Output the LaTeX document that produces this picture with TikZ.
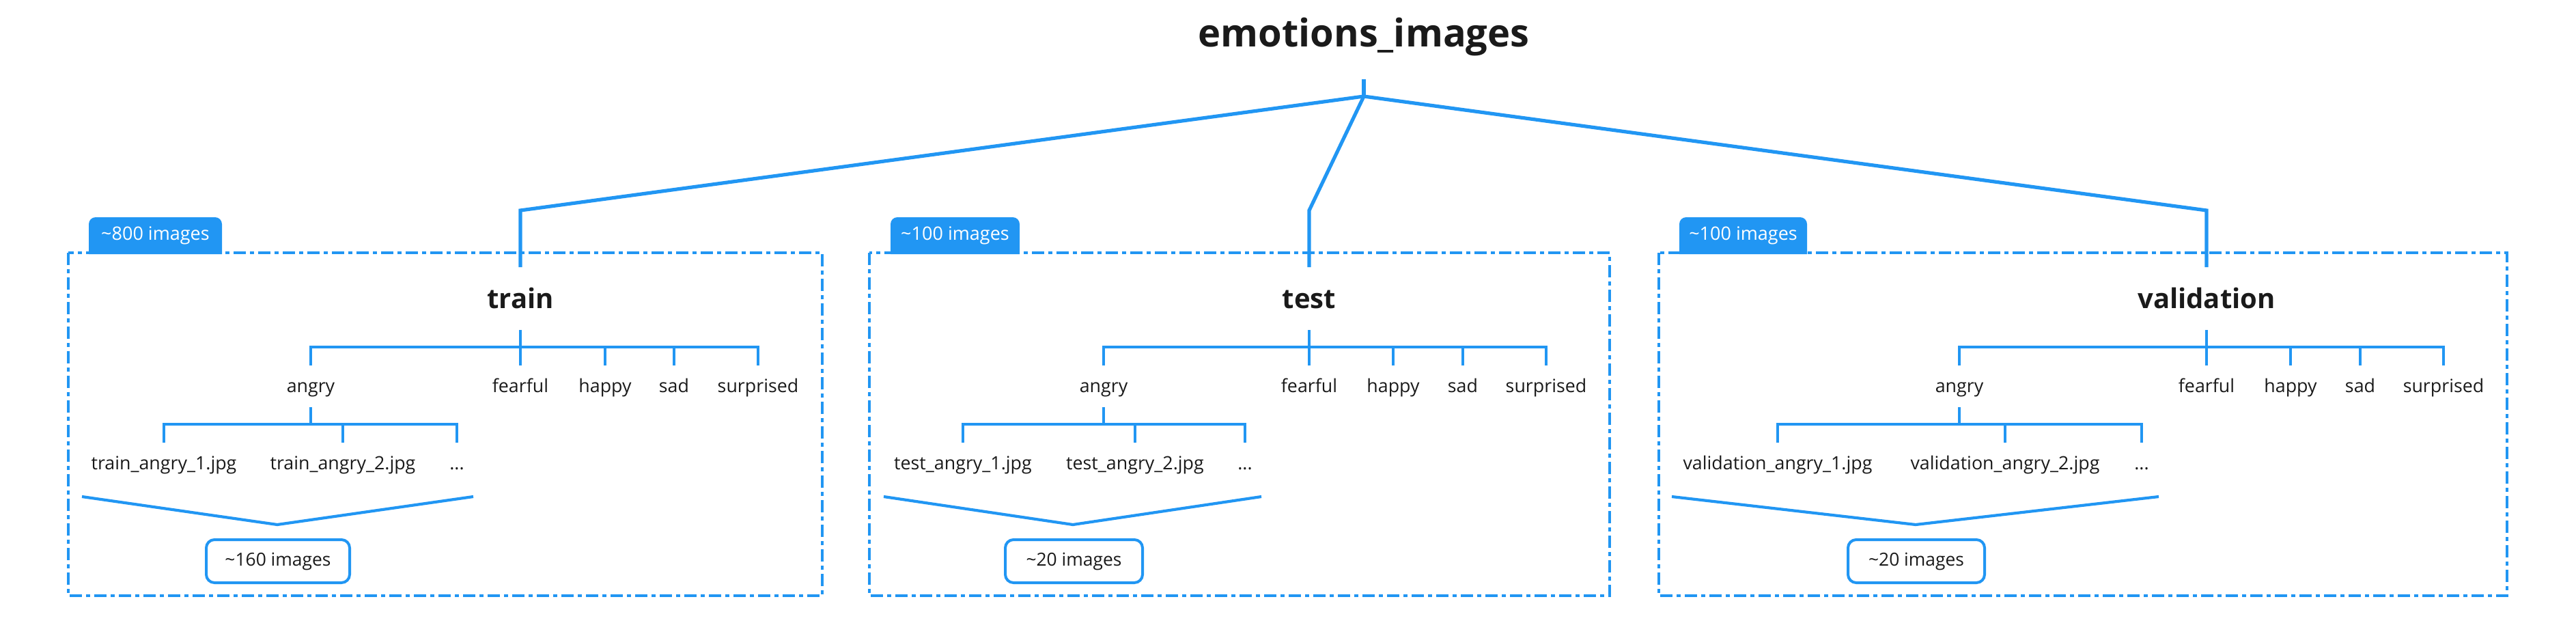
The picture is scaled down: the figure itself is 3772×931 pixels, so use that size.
\documentclass[tikz,border=0pt]{standalone}
\usepackage{fontspec}
\setmainfont{Open Sans}
\usetikzlibrary{calc}
\definecolor{tblue}{HTML}{2196F3}
\definecolor{ink}{HTML}{1A1A1A}
\tikzset{
  conn/.style={draw=tblue, line width=1.3pt, line join=miter},
  branch/.style={draw=tblue, line width=1pt},
  stub/.style={draw=tblue, line width=0.85pt},
  vshape/.style={draw=tblue, line width=1.05pt, line join=miter},
  framebox/.style={draw=tblue, line width=1pt, dash pattern=on 4.5pt off 1.5pt on 1.5pt off 1.5pt},
  tabfill/.style={fill=tblue},
  rootlabel/.style={font=\fontsize{14}{16}\selectfont\bfseries, text=ink, anchor=base, inner sep=0pt},
  splitlabel/.style={font=\fontsize{10}{12}\selectfont\bfseries, text=ink, anchor=base, inner sep=0pt},
  leaf/.style={font=\fontsize{6.7}{7.5}\selectfont, text=ink, anchor=base, inner xsep=0pt, inner ysep=4.75pt, text height=4.75pt, text depth=1.5pt},
  tabtext/.style={text=white, font=\fontsize{6.75}{7.5}\selectfont, inner sep=0pt},
  countbox/.style={draw=tblue, line width=1pt, fill=white, rounded corners=3pt, text=ink, font=\fontsize{6.6}{7.5}\selectfont, inner sep=0pt, minimum height=15.75pt}
}
\begin{document}
\begin{tikzpicture}[x=0.25pt,y=-0.25pt]
\useasboundingbox (0,0) rectangle (3772,931);

% root
\node[rootlabel] (root) at (1997,68) {emotions\_images};
\coordinate (rtop) at (1997,116);
\coordinate (rj) at (1997,141);
\draw[conn] (rtop) -- (rj);

% frames and tabs
\draw[framebox] (100,370) rectangle (1204,872);
\draw[framebox] (1273,370) rectangle (2357,872);
\draw[framebox] (2429,370) rectangle (3671,872);

\fill[tabfill] (130,372) [rounded corners=2.5pt] -- (130,318) -- (325,318) [sharp corners] -- (325,372) -- cycle;
\node[tabtext] (tabA) at (227.5,345) {\textasciitilde800 images};
\fill[tabfill] (1304,372) [rounded corners=2.5pt] -- (1304,318) -- (1493,318) [sharp corners] -- (1493,372) -- cycle;
\node[tabtext] (tabB) at (1398.5,345) {\textasciitilde100 images};
\fill[tabfill] (2459,372) [rounded corners=2.5pt] -- (2459,318) -- (2646,318) [sharp corners] -- (2646,372) -- cycle;
\node[tabtext] (tabC) at (2552.5,345) {\textasciitilde100 images};

% second level
\node[splitlabel] (train) at (762,451) {train};
\node[splitlabel] (test) at (1917,451) {test};
\node[splitlabel] (valid) at (3231,451) {validation};

\coordinate (kA) at (762,308);
\coordinate (kB) at (1917,308);
\coordinate (kC) at (3231,308);
\draw[conn] (rj) -- (kA) -- ($(train.base)+(0,-60)$);
\draw[conn] (rj) -- (kB) -- ($(test.base)+(0,-60)$);
\draw[conn] (rj) -- (kC) -- ($(valid.base)+(0,-60)$);

% TRAIN
\coordinate (jA) at (762,508);
\draw[stub] ($(train.base)+(0,32)$) -- (jA);
\node[leaf] (angA) at (455,574) {angry};
\node[leaf] (feaA) at (762,574) {fearful};
\node[leaf] (hapA) at (886,574) {happy};
\node[leaf] (sadA) at (987,574) {sad};
\node[leaf] (surA) at (1110,574) {surprised};
\draw[branch] (angA.north) -- (angA.north |- jA) -- (surA.north |- jA) -- (surA.north);
\foreach \nm in {feaA,hapA,sadA} \draw[branch] (\nm.north) -- (\nm.north |- jA);
\coordinate (gA) at (455,621);
\draw[stub] ($(angA.base)+(0,22)$) -- (gA);
\node[leaf] (fA1) at (240,687) {train\_angry\_1.jpg};
\node[leaf] (fA2) at (502,687) {train\_angry\_2.jpg};
\node[leaf] (fA3) at (669,687) {...};
\draw[branch] (fA1.north) -- (fA1.north |- gA) -- (fA3.north |- gA) -- (fA3.north);
\draw[branch] (fA2.north) -- (fA2.north |- gA);
\coordinate (vA1) at (120,727);
\coordinate (vA2) at (406,768);
\coordinate (vA3) at (693,727);
\draw[vshape] (vA1) -- (vA2) -- (vA3);
\node[countbox, minimum width=52.5pt] (cA) at (407,821.5) {\textasciitilde160 images};

% TEST
\coordinate (jB) at (1917,508);
\draw[stub] ($(test.base)+(0,32)$) -- (jB);
\node[leaf] (angB) at (1616,574) {angry};
\node[leaf] (feaB) at (1917,574) {fearful};
\node[leaf] (hapB) at (2040,574) {happy};
\node[leaf] (sadB) at (2142,574) {sad};
\node[leaf] (surB) at (2264,574) {surprised};
\draw[branch] (angB.north) -- (angB.north |- jB) -- (surB.north |- jB) -- (surB.north);
\foreach \nm in {feaB,hapB,sadB} \draw[branch] (\nm.north) -- (\nm.north |- jB);
\coordinate (gB) at (1616,621);
\draw[stub] ($(angB.base)+(0,22)$) -- (gB);
\node[leaf] (fB1) at (1410,687) {test\_angry\_1.jpg};
\node[leaf] (fB2) at (1662,687) {test\_angry\_2.jpg};
\node[leaf] (fB3) at (1823,687) {...};
\draw[branch] (fB1.north) -- (fB1.north |- gB) -- (fB3.north |- gB) -- (fB3.north);
\draw[branch] (fB2.north) -- (fB2.north |- gB);
\coordinate (vB1) at (1294,727);
\coordinate (vB2) at (1571,768);
\coordinate (vB3) at (1847,727);
\draw[vshape] (vB1) -- (vB2) -- (vB3);
\node[countbox, minimum width=50.25pt] (cB) at (1572.5,821.5) {\textasciitilde20 images};

% VALIDATION
\coordinate (jC) at (3231,508);
\draw[stub] ($(valid.base)+(0,32)$) -- (jC);
\node[leaf] (angC) at (2869,574) {angry};
\node[leaf] (feaC) at (3231,574) {fearful};
\node[leaf] (hapC) at (3354,574) {happy};
\node[leaf] (sadC) at (3456,574) {sad};
\node[leaf] (surC) at (3578,574) {surprised};
\draw[branch] (angC.north) -- (angC.north |- jC) -- (surC.north |- jC) -- (surC.north);
\foreach \nm in {feaC,hapC,sadC} \draw[branch] (\nm.north) -- (\nm.north |- jC);
\coordinate (gC) at (2869,621);
\draw[stub] ($(angC.base)+(0,22)$) -- (gC);
\node[leaf] (fC1) at (2603,687) {validation\_angry\_1.jpg};
\node[leaf] (fC2) at (2936,687) {validation\_angry\_2.jpg};
\node[leaf] (fC3) at (3136,687) {...};
\draw[branch] (fC1.north) -- (fC1.north |- gC) -- (fC3.north |- gC) -- (fC3.north);
\draw[branch] (fC2.north) -- (fC2.north |- gC);
\coordinate (vC1) at (2448,727);
\coordinate (vC2) at (2805,768);
\coordinate (vC3) at (3161,727);
\draw[vshape] (vC1) -- (vC2) -- (vC3);
\node[countbox, minimum width=50pt] (cC) at (2806,821.5) {\textasciitilde20 images};
\end{tikzpicture}
\end{document}
